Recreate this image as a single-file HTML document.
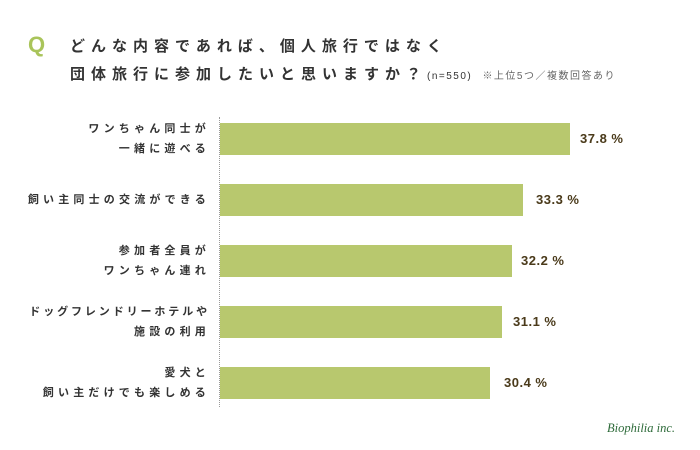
<!DOCTYPE html>
<html><head><meta charset="utf-8"><style>
body{margin:0;width:700px;height:450px;background:#fff;position:relative;overflow:hidden;font-family:"Liberation Sans","Noto Sans CJK JP",sans-serif;color:#333}
.a{position:absolute;white-space:nowrap}
.t{font-size:15px;font-weight:bold;letter-spacing:6px;color:#333}
.l{font-size:11px;letter-spacing:4.2px;text-align:right;right:490px;line-height:20px;color:#333;font-weight:bold}
.b{position:absolute;left:220px;height:32px;background:#b8c86e}
.v{font-size:13px;font-weight:bold;color:#4a3a1a;letter-spacing:0.5px}
</style></head><body>
<div class="a" style="left:28px;top:32px;font-size:22px;font-weight:bold;color:#a9c45a">Q</div>
<div class="a t" style="left:70px;top:35px">どんな内容であれば、個人旅行ではなく</div>
<div class="a t" style="left:70px;top:63px">団体旅行に参加したいと思いますか？<span style="font-size:10px;letter-spacing:1.5px;font-weight:normal">(n=550)</span> <span style="font-size:10px;letter-spacing:1.5px;font-weight:normal;color:#666">※上位5つ／複数回答あり</span></div>
<div class="a" style="left:219px;top:117px;height:290px;border-left:1px dotted #999"></div>
<div class="b" style="top:123px;width:350px"></div>
<div class="b" style="top:184px;width:303px"></div>
<div class="b" style="top:245px;width:292px"></div>
<div class="b" style="top:306px;width:282px"></div>
<div class="b" style="top:367px;width:270px"></div>
<div class="a l" style="top:119px">ワンちゃん同士が<br>一緒に遊べる</div>
<div class="a l" style="top:190px">飼い主同士の交流ができる</div>
<div class="a l" style="top:241px">参加者全員が<br>ワンちゃん連れ</div>
<div class="a l" style="top:302px"><span style="letter-spacing:2.9px">ドッグフレンドリーホテルや</span><br>施設の利用</div>
<div class="a l" style="top:363px">愛犬と<br>飼い主だけでも楽しめる</div>
<div class="a v" style="left:580px;top:131px">37.8 %</div>
<div class="a v" style="left:536px;top:192px">33.3 %</div>
<div class="a v" style="left:521px;top:253px">32.2 %</div>
<div class="a v" style="left:513px;top:314px">31.1 %</div>
<div class="a v" style="left:504px;top:375px">30.4 %</div>
<div class="a" style="left:607px;top:421px;font-family:'Liberation Serif',serif;font-style:italic;font-size:12.5px;color:#2e6b3a">Biophilia inc.</div>
</body></html>
